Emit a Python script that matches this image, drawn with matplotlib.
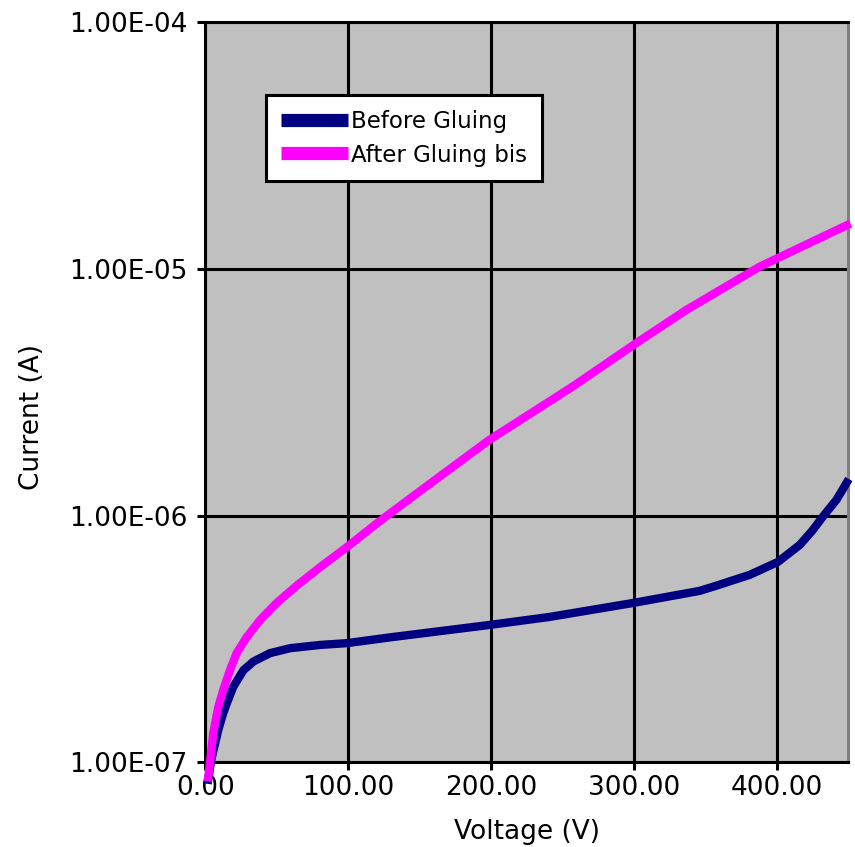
import matplotlib.pyplot as plt
from matplotlib.ticker import FixedLocator, FuncFormatter

# voltage (V) and current (A)
v_before = [2.1, 4.2, 9.1, 12.6, 14.9, 19.6, 26.7, 33.7, 45.4, 59.4, 80.5, 99.2, 129.6,
            198.6, 240.7, 299.2, 346.0, 357.9, 381.1, 400.7, 416.1, 425.0, 432.3, 441.9, 449]
i_before = [8.5e-8, 1.02e-7, 1.35e-7, 1.58e-7, 1.72e-7, 2.02e-7, 2.36e-7, 2.56e-7, 2.77e-7,
            2.90e-7, 2.99e-7, 3.04e-7, 3.21e-7, 3.60e-7, 3.88e-7, 4.42e-7, 4.95e-7, 5.2e-7,
            5.75e-7, 6.48e-7, 7.6e-7, 8.7e-7, 9.9e-7, 1.16e-6, 1.36e-6]

v_after = [2.1, 3.3, 5.6, 9.1, 12.6, 17.3, 22.0, 29.0, 38.4, 50.0, 64.1, 80.5, 99.2, 120.2,
           134.2, 163.5, 198.6, 257.1, 301.5, 336.6, 388.1, 449]
i_after = [8.7e-8, 9.9e-8, 1.31e-7, 1.67e-7, 1.96e-7, 2.36e-7, 2.77e-7, 3.21e-7, 3.77e-7,
           4.42e-7, 5.2e-7, 6.18e-7, 7.45e-7, 9.3e-7, 1.07e-6, 1.43e-6, 2.02e-6, 3.33e-6,
           4.99e-6, 6.8e-6, 1.02e-5, 1.50e-5]

x_ticks = [0, 100, 200, 300, 400]
y_ticks = [1e-7, 1e-6, 1e-5, 1e-4]
labels = ["Before Gluing", "After Gluing bis"]

fig = plt.figure(figsize=(8.55, 8.47), dpi=100)
ax = fig.add_axes([0.240, 0.100, 0.752, 0.874])
ax.set_facecolor("#c0c0c0")

ax.plot(v_before, i_before, color="#000080", lw=6, label=labels[0], clip_on=False,
        zorder=3, solid_joinstyle="round")
ax.plot(v_after, i_after, color="#ff00ff", lw=6, label=labels[1], clip_on=False,
        zorder=3, solid_joinstyle="round")

ax.set_yscale("log")
ax.set_xlim(0, 450)
ax.set_ylim(1e-7, 1e-4)
ax.xaxis.set_major_locator(FixedLocator(x_ticks))
ax.yaxis.set_major_locator(FixedLocator(y_ticks))
ax.yaxis.set_minor_locator(FixedLocator([]))
ax.xaxis.set_major_formatter(FuncFormatter(lambda v, p: "%.2f" % v))
ax.yaxis.set_major_formatter(FuncFormatter(lambda v, p: ("%.2E" % v)))

ax.grid(True, color="black", lw=2.2)
ax.set_axisbelow(True)
for s in ["left", "bottom", "top"]:
    ax.spines[s].set_linewidth(2.2)
    ax.spines[s].set_color("black")
ax.spines["right"].set_color("#808080")
ax.spines["right"].set_linewidth(2.2)

ax.tick_params(axis="both", which="major", direction="out", length=6, width=2.2,
               labelsize=19, colors="black")
ax.tick_params(axis="y", pad=7, right=False)
ax.tick_params(axis="x", pad=3, top=False)

ax.set_xlabel("Voltage (V)", fontsize=19)
ax.set_ylabel("Current (A)", fontsize=19)
ax.xaxis.set_label_coords(0.5, -0.076)
ax.xaxis.label.set_va("top")
ax.yaxis.set_label_coords(-0.249, 0.466)

leg = ax.legend(loc="upper left", bbox_to_anchor=(0.095, 0.901), borderaxespad=0,
                fontsize=16.5, handlelength=2.9, handletextpad=0.15, fancybox=False,
                framealpha=1, edgecolor="black", borderpad=0.65, labelspacing=0.45)
leg.get_frame().set_linewidth(2.2)
for h in leg.get_lines():
    h.set_linewidth(9.5)
    h.set_solid_capstyle("butt")

fig.savefig("out.png", dpi=100)
